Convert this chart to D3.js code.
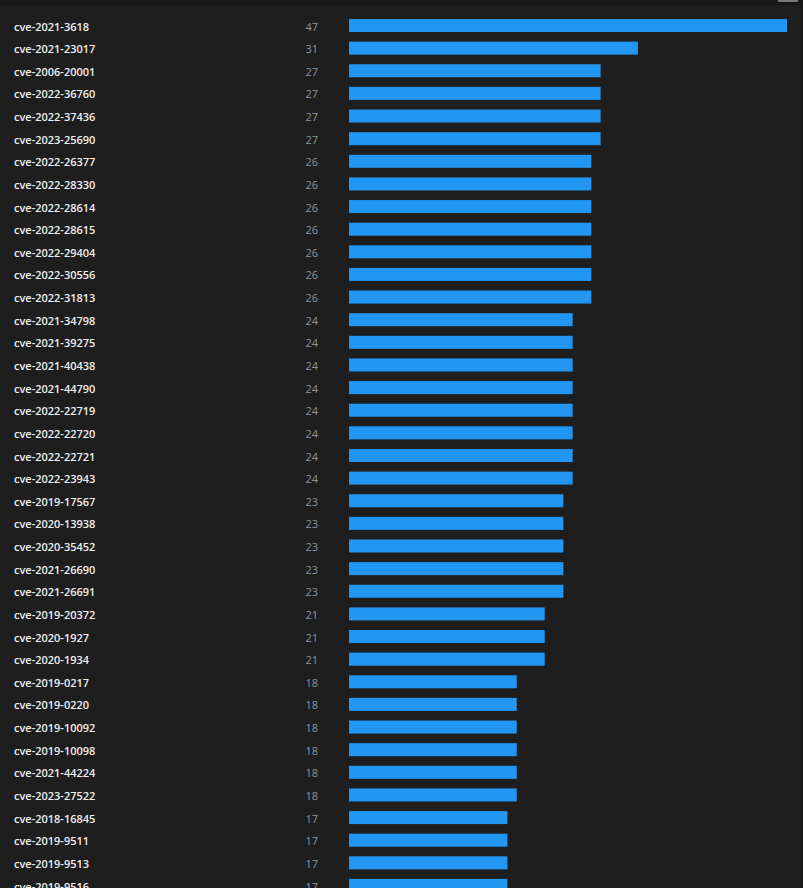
<!DOCTYPE html>
<html>
<head>
<meta charset="utf-8">
<script src="https://cdn.jsdelivr.net/npm/d3@7"></script>
<style>
html,body{margin:0;padding:0;background:#1e1e1e;overflow:hidden;}
svg{display:block;}
</style>
</head>
<body>
<svg id="chart" width="803" height="888"></svg>
<script>
const categories = [
"cve-2021-3618","cve-2021-23017","cve-2006-20001","cve-2022-36760","cve-2022-37436","cve-2023-25690",
"cve-2022-26377","cve-2022-28330","cve-2022-28614","cve-2022-28615","cve-2022-29404","cve-2022-30556",
"cve-2022-31813","cve-2021-34798","cve-2021-39275","cve-2021-40438","cve-2021-44790","cve-2022-22719",
"cve-2022-22720","cve-2022-22721","cve-2022-23943","cve-2019-17567","cve-2020-13938","cve-2020-35452",
"cve-2021-26690","cve-2021-26691","cve-2019-20372","cve-2020-1927","cve-2020-1934","cve-2019-0217",
"cve-2019-0220","cve-2019-10092","cve-2019-10098","cve-2021-44224","cve-2023-27522","cve-2018-16845",
"cve-2019-9511","cve-2019-9513","cve-2019-9516"
];
const counts = [
47,31,27,27,27,27,
26,26,26,26,26,26,
26,24,24,24,24,24,
24,24,24,23,23,23,
23,23,21,21,21,18,
18,18,18,18,18,17,
17,17,17
];

const svg = d3.select("#chart");
const W = 803, H = 888;
svg.append("rect").attr("x",0).attr("y",0).attr("width",W).attr("height",H).attr("fill","#1e1e1e");
svg.append("rect").attr("x",0).attr("y",0).attr("width",W).attr("height",5).attr("fill","#181818");
svg.append("rect").attr("x",801).attr("y",0).attr("width",2).attr("height",H).attr("fill","#171717");
svg.append("rect").attr("x",778).attr("y",0).attr("width",20).attr("height",2).attr("fill","#7a7a7a");

const rowStep = 22.63;
const listTop = 14.2;
const y = d3.scaleBand().domain(categories)
  .range([listTop, listTop + categories.length*rowStep])
  .paddingInner(0.425).paddingOuter(0.2125);
const x = d3.scaleLinear().domain([0, 47]).range([349, 787]);

const rows = svg.append("g").selectAll("g").data(categories).join("g");

rows.append("rect")
  .attr("x", x(0))
  .attr("y", d => y(d))
  .attr("width", (d,i) => x(counts[i]) - x(0))
  .attr("height", y.bandwidth())
  .attr("fill", "#2196f3");

rows.append("text")
  .attr("x", 14)
  .attr("y", d => y(d) + y.bandwidth()/2 + 1.2)
  .attr("dy", "0.35em")
  .attr("fill", "#f0f0f0")
  .attr("font-family", "'Open Sans', sans-serif")
  .attr("font-weight", 600)
  .attr("font-size", "11px")
  .text(d => d);

rows.append("text")
  .attr("x", 318)
  .attr("y", d => y(d) + y.bandwidth()/2 + 1.2)
  .attr("dy", "0.35em")
  .attr("text-anchor", "end")
  .attr("fill", "#8e959e")
  .attr("font-family", "'Open Sans', sans-serif")
  .attr("font-size", "11px")
  .text((d,i) => counts[i]);
</script>
</body>
</html>
